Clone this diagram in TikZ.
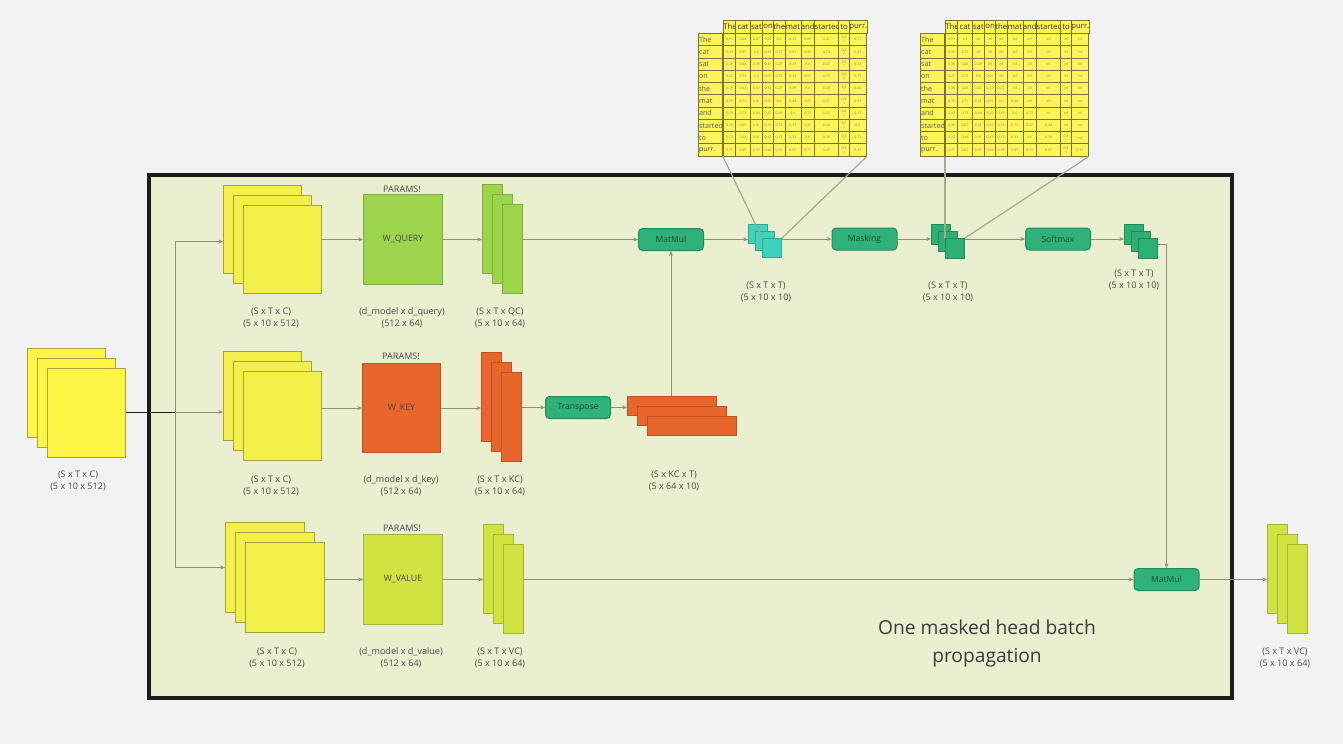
\documentclass[tikz,border=0pt]{standalone}
\usepackage{fontspec}
\setmainfont{Open Sans}
\usepackage{tikz}
\usetikzlibrary{arrows.meta}

\definecolor{PageGray}{HTML}{F2F2F2}
\definecolor{FrameFill}{HTML}{EAEFD0}
\definecolor{FrameEdge}{HTML}{1C1C1C}
\definecolor{InputYellow}{HTML}{FFF546}
\definecolor{InputEdge}{HTML}{A8A23A}
\definecolor{SheetYellow}{HTML}{F3F04B}
\definecolor{SheetEdge}{HTML}{A7A33D}
\definecolor{QueryGreen}{HTML}{9CD44C}
\definecolor{QueryEdge}{HTML}{7EAE3E}
\definecolor{KeyOrange}{HTML}{E8652B}
\definecolor{KeyEdge}{HTML}{BD5225}
\definecolor{ValueLime}{HTML}{D1E340}
\definecolor{ValueEdge}{HTML}{A6B53A}
\definecolor{ScoreCyan}{HTML}{3ED3BA}
\definecolor{ScoreEdge}{HTML}{2BA891}
\definecolor{MaskGreen}{HTML}{2EB074}
\definecolor{MaskEdge}{HTML}{238A5A}
\definecolor{OpFill}{HTML}{2FB27A}
\definecolor{OpEdge}{HTML}{228B5E}
\definecolor{OpText}{HTML}{1E4A33}
\definecolor{LabelGray}{HTML}{4A4A4A}
\definecolor{WireGray}{HTML}{8E9178}
\definecolor{LinkGray}{HTML}{A5A98F}
\definecolor{CellYellow}{HTML}{FFF35A}
\definecolor{CellEdge}{HTML}{79742F}
\definecolor{CellText}{HTML}{8A8A5A}
\definecolor{HeadText}{HTML}{333333}
\definecolor{RowText}{HTML}{5A5A5A}

\def\pxu{*0.75pt}
\def\ColEdges{{0,12.4,26.7,39.3,50,61.5,77.5,91.2,115.2,126,143}}

\begin{document}
\begin{tikzpicture}[x=0.75pt, y=-0.75pt]
        \tikzstyle Sheet=[draw, anchor=north west, inner sep=0pt, line width=0.75pt, font=\fontsize{6.6}{7.5}\selectfont, text=LabelGray]
        \tikzstyle Input Sheet=[Sheet, fill=InputYellow, draw=InputEdge]
        \tikzstyle Yellow Sheet=[Sheet, fill=SheetYellow, draw=SheetEdge]
        \tikzstyle Query Sheet=[Sheet, fill=QueryGreen, draw=QueryEdge]
        \tikzstyle Key Sheet=[Sheet, fill=KeyOrange, draw=KeyEdge]
        \tikzstyle Value Sheet=[Sheet, fill=ValueLime, draw=ValueEdge]
        \tikzstyle Score Sheet=[Sheet, fill=ScoreCyan, draw=ScoreEdge]
        \tikzstyle Mask Sheet=[Sheet, fill=MaskGreen, draw=MaskEdge]

        \tikzstyle Op Box=[draw=OpEdge, fill=OpFill, rounded corners=3pt, line width=0.75pt, minimum width=65\pxu, minimum height=22\pxu, inner sep=0pt, font=\fontsize{6.4}{7.5}\selectfont, text=OpText]
        \tikzstyle Dim Label=[align=center, inner sep=0pt, font=\fontsize{6.8}{9.2}\selectfont, text=LabelGray]
        \tikzstyle Title=[align=center, inner sep=0pt, font=\fontsize{14.4}{21}\selectfont, text=LabelGray!80!black]
        \tikzstyle Wire=[draw=WireGray, line width=0.75pt]
        \tikzstyle Arrow Wire=[Wire, -{Stealth[length=3.5pt, width=3pt]}]
        \tikzstyle Link Line=[draw=LinkGray, line width=0.9pt]

        \tikzstyle Table Cell=[draw=CellEdge, fill=CellYellow, line width=0.6pt, anchor=north west, inner sep=0pt, align=center, minimum height=12.27\pxu, text=CellText, font=\fontsize{2.6}{2.8}\selectfont]
        \tikzstyle Head Cell=[Table Cell, minimum height=13\pxu, text=HeadText, font=\fontsize{5.8}{6.4}\selectfont]
        \tikzstyle Row Cell=[Table Cell, text width=17.25pt, inner xsep=0.5pt, align=left, text=RowText, font=\fontsize{5.4}{6.2}\selectfont]

        \fill[PageGray] (0,0) rectangle (1343,744);
        \useasboundingbox (0,0) rectangle (1343,744);
        \draw[fill=FrameFill, draw=FrameEdge, line width=2.6pt] (149,175) rectangle (1232,698);

        \foreach \tab/\tx/\masked in {qk/723/0, ma/945/1} {
            \foreach \w [count=\c] in {The,cat,sat,on,the,mat,and,started,to,purr.} {
                \pgfmathsetmacro\xl{\ColEdges[\c-1]}
                \pgfmathsetmacro\xr{\ColEdges[\c]}
                \pgfmathsetmacro\cw{(\xr-\xl)*0.75}
                \node[Head Cell, minimum width=\cw pt] (\tab-0-\c) at (\tx+\xl, 20) {\w};
            }
            \foreach \w [count=\r] in {The,cat,sat,on,the,mat,and,started,to,purr.}
                \node[Row Cell] (\tab-\r-0) at (\tx-25, {33+(\r-1)*12.27}) {\w};
            \foreach \row [count=\r] in {
                {0.91,0.44,0.07,0.22,0.6,0.33,0.07,0.37,0.3\\1,0.71},
                {0.33,0.37,0.6,0.41,0.71,0.01,0.44,0.73,0.2\\2,0.43},
                {0.39,0.44,0.39,0.43,0.27,0.37,0.6,0.07,0.3\\1,0.33},
                {0.22,0.73,0.6,0.01,0.73,0.44,0.91,0.33,0.6\\3,0.73},
                {0.39,0.43,0.07,0.33,0.27,0.39,0.6,0.39,0.3\\1,0.44},
                {0.73,0.71,0.01,0.91,0.6,0.44,0.07,0.37,0.9\\1,0.33},
                {0.33,0.73,0.44,0.22,0.39,0.6,0.73,0.37,0.4\\2,0.37},
                {0.39,0.07,0.01,0.37,0.33,0.71,0.27,0.44,0.7\\1,0.6},
                {0.22,0.44,0.91,0.43,0.73,0.33,0.6,0.39,0.3\\1,0.73},
                {0.71,0.07,0.37,0.44,0.39,0.07,0.71,0.07,0.9\\1,0.37}} {
                \foreach \v [count=\c] in \row {
                    \pgfmathsetmacro\xl{\ColEdges[\c-1]}
                    \pgfmathsetmacro\xr{\ColEdges[\c]}
                    \pgfmathsetmacro\cw{(\xr-\xl)*0.75}
                    \pgfmathtruncatemacro\hide{\masked*(\c>\r)}
                    \node[Table Cell, minimum width=\cw pt] (\tab-\r-\c) at (\tx+\xl, {33+(\r-1)*12.27}) {\ifnum\hide=1 inf\else\v\fi};
                }
            }
        }

        \foreach \d [count=\i] in {0,10,20}
            \node[Input Sheet, minimum width=78\pxu, minimum height=89\pxu] (inp\i) at (27+\d, 348+\d) {};
        \foreach \d [count=\i] in {0,10,20}
            \node[Yellow Sheet, minimum width=78\pxu, minimum height=88\pxu] (qin\i) at (223+\d, 185+\d) {};
        \foreach \d [count=\i] in {0,10,20}
            \node[Yellow Sheet, minimum width=78\pxu, minimum height=89\pxu] (kin\i) at (223+\d, 351+\d) {};
        \foreach \d [count=\i] in {0,10,20}
            \node[Yellow Sheet, minimum width=79\pxu, minimum height=90\pxu] (vin\i) at (225+\d, 522+\d) {};

        \node[Query Sheet, minimum width=79\pxu, minimum height=90\pxu] (wq) at (363,194) {W\_QUERY};
        \node[Key Sheet, minimum width=78\pxu, minimum height=89\pxu] (wk) at (362,363) {W\_KEY};
        \node[Value Sheet, minimum width=79\pxu, minimum height=90\pxu] (wv) at (363,534) {W\_VALUE};

        \foreach \d [count=\i] in {0,10,20}
            \node[Query Sheet, minimum width=20\pxu, minimum height=89\pxu] (q\i) at (482+\d, 184+\d) {};
        \foreach \d [count=\i] in {0,10,20}
            \node[Key Sheet, minimum width=20\pxu, minimum height=89\pxu] (k\i) at (481+\d, 352+\d) {};
        \foreach \d [count=\i] in {0,10,20}
            \node[Value Sheet, minimum width=20\pxu, minimum height=89\pxu] (v\i) at (483+\d, 524+\d) {};
        \foreach \d [count=\i] in {0,10,20}
            \node[Key Sheet, minimum width=89\pxu, minimum height=19\pxu] (kt\i) at (627+\d, 396+\d) {};
        \foreach \d [count=\i] in {0,7,14}
            \node[Score Sheet, minimum width=19\pxu, minimum height=19\pxu] (qk\i) at (748+\d, 224+\d) {};
        \foreach \d [count=\i] in {0,7,14}
            \node[Mask Sheet, minimum width=19\pxu, minimum height=20\pxu] (ms\i) at (931+\d, 224+\d) {};
        \foreach \d [count=\i] in {0,7,14}
            \node[Mask Sheet, minimum width=19\pxu, minimum height=20\pxu] (sm\i) at (1124+\d, 224+\d) {};
        \foreach \d [count=\i] in {0,10,20}
            \node[Value Sheet, minimum width=20\pxu, minimum height=89\pxu] (out\i) at (1267+\d, 524+\d) {};

        \node[Op Box] (mm1) at (671,239.5) {MatMul};
        \node[Op Box] (mask) at (864.5,239) {Masking};
        \node[Op Box] (soft) at (1058,239) {Softmax};
        \node[Op Box] (tr) at (578,407.5) {Transpose};
        \node[Op Box] (mm2) at (1166.5,579.5) {MatMul};

        \node[Dim Label] (wqp) at (402,189) {PARAMS!};
        \node[Dim Label] (wkp) at (401,356.5) {PARAMS!};
        \node[Dim Label] (wvp) at (402,528) {PARAMS!};

        \node[Dim Label] (inp lbl) at (78,481) {(S x T x C)\\(5 x 10 x 512)};
        \node[Dim Label] (qin lbl) at (271,318) {(S x T x C)\\(5 x 10 x 512)};
        \node[Dim Label] (kin lbl) at (271,486) {(S x T x C)\\(5 x 10 x 512)};
        \node[Dim Label] (vin lbl) at (277,658) {(S x T x C)\\(5 x 10 x 512)};
        \node[Dim Label] (wq lbl) at (402,318) {(d\_model x d\_query)\\(512 x 64)};
        \node[Dim Label] (wk lbl) at (401,486) {(d\_model x d\_key)\\(512 x 64)};
        \node[Dim Label] (wv lbl) at (401,658) {(d\_model x d\_value)\\(512 x 64)};
        \node[Dim Label] (q lbl) at (500,318) {(S x T x QC)\\(5 x 10 x 64)};
        \node[Dim Label] (k lbl) at (500,486) {(S x T x KC)\\(5 x 10 x 64)};
        \node[Dim Label] (v lbl) at (500,658) {(S x T x VC)\\(5 x 10 x 64)};
        \node[Dim Label] (kt lbl) at (674,481) {(S x KC x T)\\(5 x 64 x 10)};
        \node[Dim Label] (qk lbl) at (766,292) {(S x T x T)\\(5 x 10 x 10)};
        \node[Dim Label] (ms lbl) at (948,292) {(S x T x T)\\(5 x 10 x 10)};
        \node[Dim Label] (sm lbl) at (1134,280) {(S x T x T)\\(5 x 10 x 10)};
        \node[Dim Label] (out lbl) at (1285,658) {(S x T x VC)\\(5 x 10 x 64)};
        \node[Title] (title) at (987,643) {One masked head batch\\propagation};

        \coordinate (split) at (175,412);
        \draw[Wire, draw=FrameEdge] (inp3.east |- split) -- (split);
        \draw[Arrow Wire] (split) |- ([yshift=-9pt]qin1.west);
        \draw[Arrow Wire] (split) -- (split -| kin1.west);
        \draw[Arrow Wire] (split) |- (vin1.west);

        \draw[Arrow Wire] (qin3.east |- wq.west) -- (wq.west);
        \draw[Arrow Wire] (kin3.east |- wk.west) -- (wk.west);
        \draw[Arrow Wire] (vin3.east |- wv.west) -- (wv.west);
        \draw[Arrow Wire] (wq.east) -- (wq.east -| q1.west);
        \draw[Arrow Wire] (wk.east) -- (wk.east -| k1.west);
        \draw[Arrow Wire] (wv.east) -- (wv.east -| v1.west);

        \draw[Arrow Wire] (q3.east |- mm1.west) -- (mm1.west);
        \draw[Arrow Wire] (k3.east |- tr.west) -- (tr.west);
        \draw[Arrow Wire] (tr.east) -- (tr.east -| kt1.west);
        \draw[Arrow Wire] (kt1.north -| mm1.south) -- (mm1.south);
        \draw[Arrow Wire] (mm1.east) -- (mm1.east -| qk1.west);
        \draw[Arrow Wire] (qk3.east |- mask.west) -- (mask.west);
        \draw[Arrow Wire] (mask.east) -- (mask.east -| ms1.west);
        \draw[Arrow Wire] (ms3.east |- soft.west) -- (soft.west);
        \draw[Arrow Wire] (soft.east) -- (soft.east -| sm1.west);
        \draw[Arrow Wire] ([yshift=3pt]sm3.east) -| (mm2.north);
        \draw[Arrow Wire] (v3.east |- mm2.west) -- (mm2.west);
        \draw[Arrow Wire] (mm2.east) -- (mm2.east -| out1.west);

        \draw[Link Line] (qk-10-1.south west) -- (qk3.north west);
        \draw[Link Line] (qk-10-10.south east) -- (qk3.north east);
        \draw[Link Line] (ma-10-1.south west) -- (ms3.north west);
        \draw[Link Line] (ma-10-10.south east) -- (ms3.north east);
    \end{tikzpicture}
\end{document}
